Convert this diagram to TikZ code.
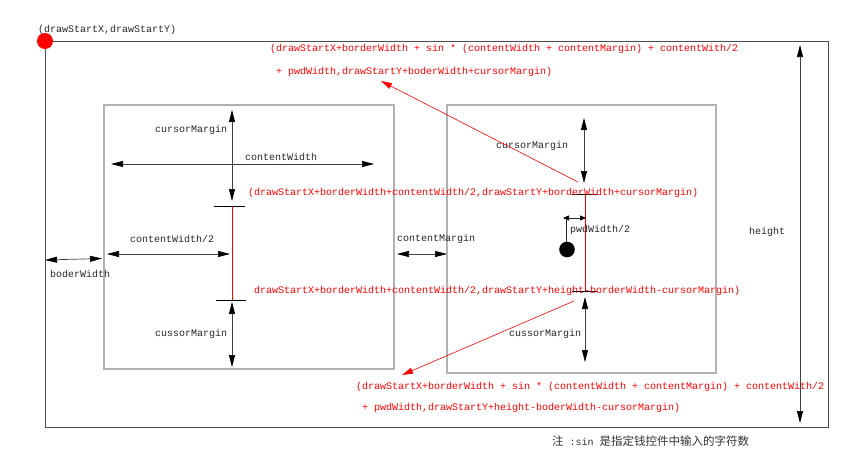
\documentclass[tikz,border=0pt]{standalone}
\usepackage{fontspec}
\setmainfont{Liberation Mono}
\newfontfamily\cjk{Noto Sans CJK SC}
\usetikzlibrary{arrows.meta}
\begin{document}
\begin{tikzpicture}[x=1pt,y=-1pt,
  lbl/.style={anchor=west,inner sep=0pt,font=\fontsize{10}{12}\selectfont,text=black!85},
  rlbl/.style={lbl,text=red},
  dim/.style={draw=black!75,line width=0.7pt,{Triangle[length=12pt,width=6pt,fill=black,color=black]}-{Triangle[length=12pt,width=6pt,fill=black,color=black]}},
  smalldim/.style={draw=black!85,line width=0.7pt,{Triangle[length=6pt,width=5pt,fill=black,color=black]}-{Triangle[length=6pt,width=5pt,fill=black,color=black]}},
  outer/.style={draw=black!70,line width=0.8pt},
  box/.style={draw=black!30,line width=1.1pt},
  tickline/.style={draw=black,line width=0.8pt},
  redline/.style={draw=red,line width=0.7pt},
  redarr/.style={draw=red,line width=0.6pt,-{Triangle[length=11pt,width=6pt]}},
  plain/.style={draw=black!85,line width=0.7pt},
]
\useasboundingbox (0,0) rectangle (868,461);

% frames
\coordinate (O) at (45,41);
\coordinate (Oend) at (828,427);
\draw[outer] (O) rectangle (Oend);
\coordinate (L1) at (104,105);
\coordinate (L2) at (394,369);
\draw[box] (L1) rectangle (L2);
\coordinate (R1) at (447,105);
\coordinate (R2) at (716,373);
\draw[box] (R1) rectangle (R2);

% start point
\fill[red] (O) circle (8pt);
\node[lbl] (start) at (38,30) {(drawStartX,drawStartY)};

% left box dimensions
\coordinate (lcmT) at (232,110);
\coordinate (lcmB) at (232,201);
\draw[dim] (lcmT) -- (lcmB);
\node[lbl] (lcm) at (155,130) {cursorMargin};

\coordinate (cwL) at (111,164);
\coordinate (cwR) at (374,164);
\draw[dim] (cwL) -- (cwR);
\node[lbl] (cw) at (245,157) {contentWidth};

\coordinate (ltA) at (214,206);
\coordinate (ltB) at (245,206);
\draw[tickline] (ltA) -- (ltB);
\coordinate (lrT) at (232,206);
\coordinate (lrB) at (232,300);
\draw[redline] (lrT) -- (lrB);
\coordinate (lbA) at (216,300);
\coordinate (lbB) at (246,300);
\draw[tickline] (lbA) -- (lbB);

\coordinate (cw2L) at (107,254);
\coordinate (cw2R) at (230,254);
\draw[dim] (cw2L) -- (cw2R);
\node[lbl] (cw2) at (130,239) {contentWidth/2};

\coordinate (bwL) at (45,260);
\coordinate (bwR) at (102,258.5);
\draw[dim] (bwL) -- (bwR);
\node[lbl] (bw) at (50,274) {boderWidth};

\coordinate (cmL) at (397,254);
\coordinate (cmR) at (447,254);
\draw[dim] (cmL) -- (cmR);
\node[lbl] (cm) at (397,239) {contentMargin};

\coordinate (lbmT) at (232,302);
\coordinate (lbmB) at (232,367);
\draw[dim] (lbmT) -- (lbmB);
\node[lbl] (lbm) at (155,334) {cussorMargin};

% right box dimensions
\coordinate (rcmT) at (584,118);
\coordinate (rcmB) at (584,183);
\draw[dim] (rcmT) -- (rcmB);
\node[lbl] (rcm) at (496,146) {cursorMargin};

\coordinate (rtA) at (572,194);
\coordinate (rtB) at (597,194);
\draw[tickline] (rtA) -- (rtB);
\coordinate (rrT) at (585,194);
\coordinate (rrB) at (585,292);
\draw[redline] (rrT) -- (rrB);
\coordinate (rbA) at (572,291);
\coordinate (rbB) at (597,291);
\draw[tickline] (rbA) -- (rbB);

\coordinate (pwL) at (563,218);
\coordinate (pwR) at (586,218);
\draw[smalldim] (pwL) -- (pwR);
\coordinate (pvT) at (566,218);
\coordinate (pvB) at (566,243);
\draw[plain] (pvT) -- (pvB);
\fill[black] (567,249.5) circle (7.8pt);
\node[lbl] (pw) at (570,230) {pwdWidth/2};

\coordinate (rbmT) at (585,297);
\coordinate (rbmB) at (585,362);
\draw[dim] (rbmT) -- (rbmB);
\node[lbl] (rbm) at (509,334) {cussorMargin};

\coordinate (hT) at (800,45);
\coordinate (hB) at (800,423);
\draw[dim] (hT) -- (hB);
\node[lbl] (h) at (749,232) {height};

% red formulas
\node[rlbl] (top1) at (270,49) {(drawStartX+borderWidth + sin * (contentWidth + contentMargin) + contentWith/2};
\node[rlbl] (top2) at (276,72) {+ pwdWidth,drawStartY+boderWidth+cursorMargin)};
\node[rlbl] (mid1) at (248,193) {(drawStartX+borderWidth+contentWidth/2,drawStartY+borderWidth+cursorMargin)};
\node[rlbl] (mid2) at (254,291) {drawStartX+borderWidth+contentWidth/2,drawStartY+height-borderWidth-cursorMargin)};
\node[rlbl] (bot1) at (356,387) {(drawStartX+borderWidth + sin * (contentWidth + contentMargin) + contentWith/2};
\node[rlbl] (bot2) at (362,408) {+ pwdWidth,drawStartY+height-boderWidth-cursorMargin)};

\coordinate (ua) at (578,182);
\coordinate (ub) at (381,81);
\draw[redarr] (ua) -- (ub);
\coordinate (da) at (574,301);
\coordinate (db) at (402,375);
\draw[redarr] (da) -- (db);

% note
\node[lbl,text=black!80] (note) at (552,441) {{\cjk\fontsize{11.5}{13}\selectfont 注} :sin {\cjk\fontsize{11.5}{13}\selectfont 是指定钱控件中输入的字符数}};
\end{tikzpicture}
\end{document}
